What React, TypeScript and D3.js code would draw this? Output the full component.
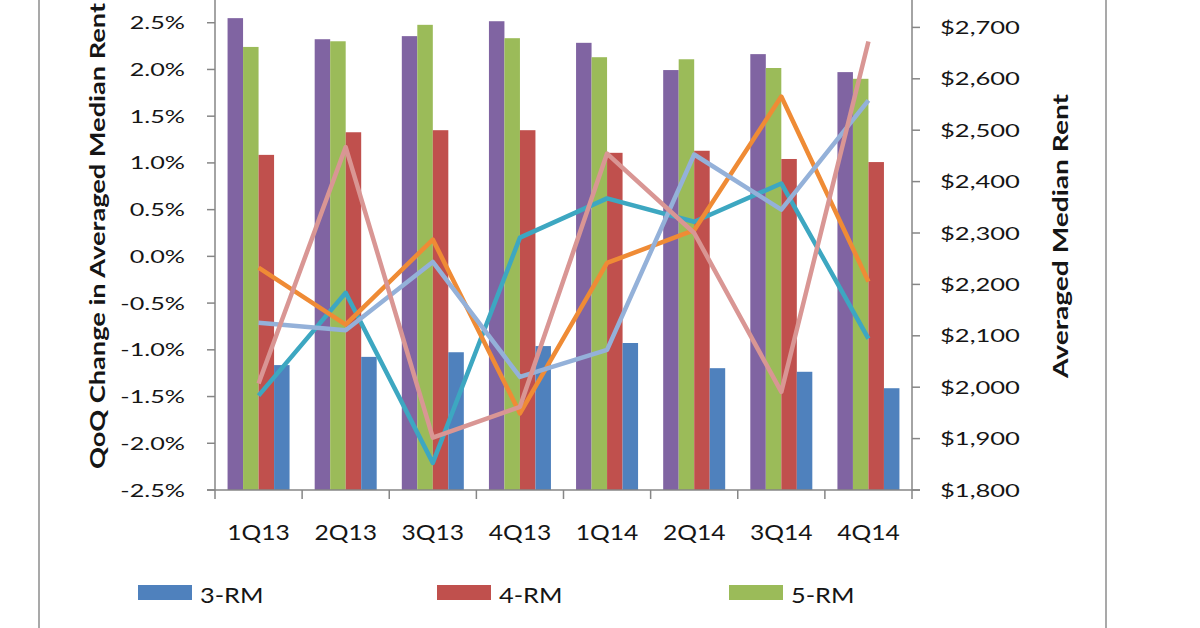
import React, { useEffect, useRef } from "react";
import * as d3 from "d3";

// quarters on the x axis
const quarters = ["1Q13", "2Q13", "3Q13", "4Q13", "1Q14", "2Q14", "3Q14", "4Q14"];

// averaged median rent (right axis), bars
const execRent = [2718, 2677, 2683, 2712, 2670, 2617, 2648, 2613];
const rm5Rent = [2662, 2673, 2705, 2679, 2642, 2638, 2621, 2600];
const rm4Rent = [2452, 2496, 2500, 2500, 2456, 2460, 2444, 2438];
const rm3Rent = [2043, 2059, 2068, 2080, 2086, 2037, 2030, 1998];

// QoQ change in % (left axis), lines
const qoqTeal = [-1.49, -0.39, -2.21, 0.2, 0.62, 0.37, 0.78, -0.88];
const qoqOrange = [-0.12, -0.73, 0.18, -1.68, -0.07, 0.28, 1.71, -0.27];
const qoqLightBlue = [-0.71, -0.79, -0.06, -1.29, -1.0, 1.09, 0.5, 1.67];
const qoqPink = [-1.36, 1.17, -1.94, -1.61, 1.1, 0.25, -1.45, 2.3];

// the chart is cropped at the top: 3.0% / $2,800 lie just above the picture
const leftTicks = [-2.5, -2.0, -1.5, -1.0, -0.5, 0.0, 0.5, 1.0, 1.5, 2.0, 2.5];
const rightTicks = [1800, 1900, 2000, 2100, 2200, 2300, 2400, 2500, 2600, 2700];

const legendItems = [
  { name: "3-RM", color: "#4F81BD" },
  { name: "4-RM", color: "#C0504D" },
  { name: "5-RM", color: "#9BBB59" },
];

const App = () => {
  const svgRef = useRef<SVGSVGElement>(null);

  useEffect(() => {
    const width = 1200;
    const height = 628;
    const m = { left: 215, right: 912, top: -24, bottom: 490 };
    const axisColor = "#868686";
    const textColor = "#151515";
    const font = "Lato, 'Open Sans', sans-serif";

    const svg = d3.select(svgRef.current);
    svg.selectAll("*").remove();
    svg.attr("width", width).attr("height", height);

    svg.append("rect").attr("width", width).attr("height", height).attr("fill", "#fff");

    // outer frame
    svg.append("line").attr("x1", 39).attr("x2", 39).attr("y1", 0).attr("y2", height)
      .attr("stroke", "#8c8c8c").attr("stroke-width", 1.5);
    svg.append("line").attr("x1", 1106).attr("x2", 1106).attr("y1", 0).attr("y2", height)
      .attr("stroke", "#8c8c8c").attr("stroke-width", 1.5);

    const x0 = d3.scaleBand().domain(quarters).range([m.left, m.right]).padding(0);
    const seriesKeys = ["exec", "rm5", "rm4", "rm3"];
    const x1 = d3.scaleBand().domain(seriesKeys).range([0, x0.bandwidth()])
      .paddingInner(0).paddingOuter(0.81);
    const yL = d3.scaleLinear().domain([-2.5, 3.0]).range([m.bottom, m.top]);
    const yR = d3.scaleLinear().domain([1800, 2800]).range([m.bottom, m.top]);

    const barSeries = [
      { key: "exec", values: execRent, color: "#8064A2" },
      { key: "rm5", values: rm5Rent, color: "#9BBB59" },
      { key: "rm4", values: rm4Rent, color: "#C0504D" },
      { key: "rm3", values: rm3Rent, color: "#4F81BD" },
    ];

    // bars
    const bars = svg.append("g");
    barSeries.forEach((s) => {
      bars.selectAll(null)
        .data(s.values)
        .enter()
        .append("rect")
        .attr("x", (_d, i) => (x0(quarters[i]) as number) + (x1(s.key) as number))
        .attr("width", x1.bandwidth())
        .attr("y", (d) => yR(d))
        .attr("height", (d) => yR(1800) - yR(d))
        .attr("fill", s.color);
    });

    // lines
    const lineSeries = [
      { values: qoqTeal, color: "#3DA7C1" },
      { values: qoqOrange, color: "#EF8B35" },
      { values: qoqLightBlue, color: "#94B1D9" },
      { values: qoqPink, color: "#D99694" },
    ];
    const line = d3.line<number>()
      .x((_d, i) => (x0(quarters[i]) as number) + x0.bandwidth() / 2)
      .y((d) => yL(d));
    lineSeries.forEach((s) => {
      svg.append("path")
        .datum(s.values)
        .attr("d", line)
        .attr("fill", "none")
        .attr("stroke", s.color)
        .attr("stroke-width", 4.5)
        .attr("stroke-linejoin", "round");
    });

    // axes lines
    const ax = svg.append("g").attr("stroke", axisColor).attr("stroke-width", 1.5);
    ax.append("line").attr("x1", m.left).attr("x2", m.left).attr("y1", m.top).attr("y2", m.bottom);
    ax.append("line").attr("x1", m.right).attr("x2", m.right).attr("y1", m.top).attr("y2", m.bottom);
    ax.append("line").attr("x1", m.left - 8).attr("x2", m.right + 8).attr("y1", m.bottom).attr("y2", m.bottom);
    leftTicks.forEach((t) => {
      ax.append("line").attr("x1", m.left - 8).attr("x2", m.left).attr("y1", yL(t)).attr("y2", yL(t));
    });
    rightTicks.forEach((t) => {
      ax.append("line").attr("x1", m.right).attr("x2", m.right + 8).attr("y1", yR(t)).attr("y2", yR(t));
    });
    quarters.forEach((q, i) => {
      const xx = x0(q) as number;
      ax.append("line").attr("x1", xx).attr("x2", xx).attr("y1", m.bottom).attr("y2", m.bottom + 9);
      if (i === quarters.length - 1) {
        ax.append("line").attr("x1", xx + x0.bandwidth()).attr("x2", xx + x0.bandwidth())
          .attr("y1", m.bottom).attr("y2", m.bottom + 9);
      }
    });

    const txt = svg.append("g").attr("font-family", font).attr("fill", textColor);

    // left tick labels (plain hyphen for negatives, as in the original)
    leftTicks.forEach((t) => {
      txt.append("text")
        .attr("transform", `translate(185,${yL(t) + 6.5}) scale(1.4,1)`)
        .attr("text-anchor", "end")
        .attr("font-size", 18)
        .text(d3.format(".1f")(t).replace("\u2212", "-") + "%");
    });

    // right tick labels
    rightTicks.forEach((t) => {
      txt.append("text")
        .attr("transform", `translate(940,${yR(t) + 6.5}) scale(1.42,1)`)
        .attr("text-anchor", "start")
        .attr("font-size", 18)
        .text("$" + d3.format(",")(t));
    });

    // x labels
    quarters.forEach((q) => {
      txt.append("text")
        .attr("transform", `translate(${(x0(q) as number) + x0.bandwidth() / 2},540) scale(1.12,1)`)
        .attr("text-anchor", "middle")
        .attr("font-size", 22)
        .text(q);
    });

    // axis titles
    txt.append("text")
      .attr("transform", "translate(105,236) rotate(-90)")
      .attr("text-anchor", "middle")
      .attr("font-size", 20)
      .attr("font-weight", "bold")
      .attr("textLength", 466)
      .attr("lengthAdjust", "spacingAndGlyphs")
      .text("QoQ Change in Averaged Median Rent");
    txt.append("text")
      .attr("transform", "translate(1068,236) rotate(-90)")
      .attr("text-anchor", "middle")
      .attr("font-size", 20)
      .attr("font-weight", "bold")
      .attr("textLength", 284)
      .attr("lengthAdjust", "spacingAndGlyphs")
      .text("Averaged Median Rent");

    // legend
    const legendX = [138, 437, 729];
    legendItems.forEach((d, i) => {
      svg.append("rect")
        .attr("x", legendX[i]).attr("y", 585)
        .attr("width", 54).attr("height", 15)
        .attr("fill", d.color);
      txt.append("text")
        .attr("transform", `translate(${legendX[i] + 62},603) scale(1.15,1)`)
        .attr("font-size", 22)
        .text(d.name);
    });
  }, []);

  return (
    <div style={{ position: "absolute", left: 0, top: 0 }}>
      <svg ref={svgRef} style={{ display: "block" }}></svg>
    </div>
  );
};

export default App;
